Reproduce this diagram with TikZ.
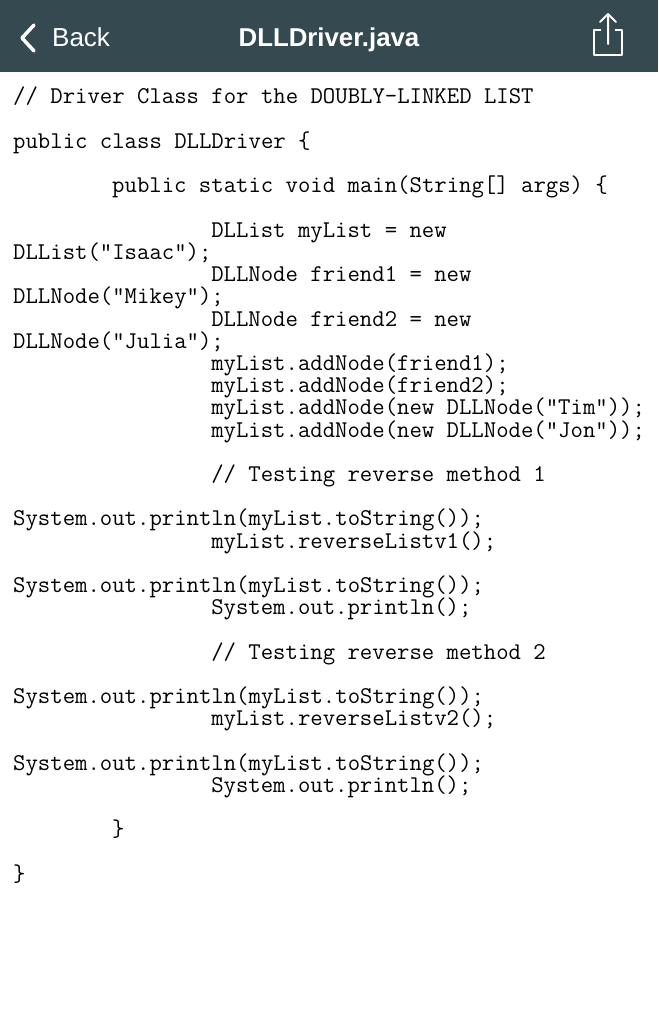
\documentclass[tikz,border=0pt]{standalone}
\usepackage{fontspec}
\setmainfont{Liberation Sans}
\newfontfamily\codefont{Latin Modern Mono}
\definecolor{barcol}{HTML}{354A50}
\tikzset{code/.style={anchor=base west,inner sep=0pt,font=\codefont\fontsize{24.06}{25}\selectfont},
hdr/.style={text=white,inner sep=0pt}}
\begin{document}
\begin{tikzpicture}[x=1pt,y=-1pt]
\useasboundingbox[fill=white] (0,0) rectangle (658,1024);
\fill[barcol] (0,0) rectangle (658,72);
\draw[white,line width=3.5pt,line cap=round,line join=round] (34,25)--(22,38)--(34,51);
\node[hdr,anchor=base west,font=\fontsize{26}{28}\selectfont] (back) at (52,47) {Back};
\node[hdr,anchor=base,font=\bfseries\fontsize{25.8}{28}\selectfont] (title) at (329,47) {DLLDriver.java};
\draw[white,line width=2pt,line join=round] (601,30)--(594,30)--(594,55)--(622,55)--(622,30)--(615,30);
\draw[white,line width=2pt,line cap=round,line join=round] (608,44)--(608,14) (600,22)--(608,14)--(616,22);
\foreach \n/\i/\t in {
0/0/{// Driver Class for the DOUBLY-LINKED LIST},
2/0/{public class DLLDriver \{},
4/8/{public static void main(String[] args) \{},
6/16/{DLList myList = new},
7/0/{DLList("Isaac");},
8/16/{DLLNode friend1 = new},
9/0/{DLLNode("Mikey");},
10/16/{DLLNode friend2 = new},
11/0/{DLLNode("Julia");},
12/16/{myList.addNode(friend1);},
13/16/{myList.addNode(friend2);},
14/16/{myList.addNode(new DLLNode("Tim"));},
15/16/{myList.addNode(new DLLNode("Jon"));},
17/16/{// Testing reverse method 1},
19/0/{System.out.println(myList.toString());},
20/16/{myList.reverseListv1();},
22/0/{System.out.println(myList.toString());},
23/16/{System.out.println();},
25/16/{// Testing reverse method 2},
27/0/{System.out.println(myList.toString());},
28/16/{myList.reverseListv2();},
30/0/{System.out.println(myList.toString());},
31/16/{System.out.println();},
33/8/{\}},
35/0/{\}}}
  \node[code] (l\n) at ({13+12.38*\i},{104+22.2*\n}) {\t};
\end{tikzpicture}
\end{document}
